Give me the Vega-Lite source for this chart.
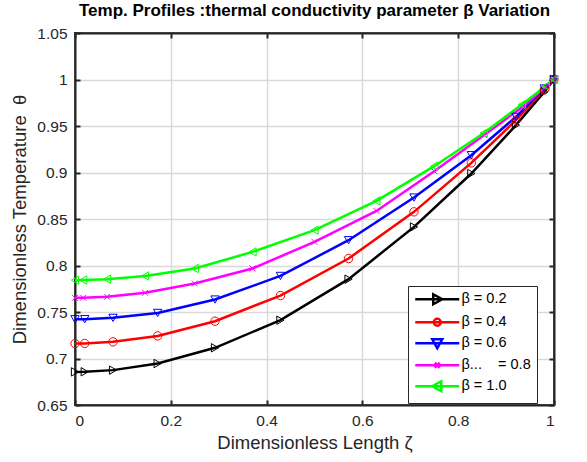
{
  "$schema": "https://vega.github.io/schema/vega-lite/v6.json",
  "width": 479,
  "height": 372,
  "autosize": {"type": "none"},
  "padding": {"left": 75, "top": 33, "right": 33, "bottom": 57},
  "background": "white",
  "title": {
    "text": "Temp. Profiles :thermal conductivity parameter β Variation",
    "font": "Liberation Sans",
    "fontSize": 17,
    "fontWeight": "bold",
    "color": "#000000",
    "anchor": "middle",
    "offset": 6
  },
  "config": {
    "view": {"stroke": "#262626", "strokeWidth": 2},
    "axis": {
      "labelFont": "Liberation Sans",
      "labelFontSize": 15.5,
      "labelColor": "#262626",
      "titleFont": "Liberation Sans",
      "titleFontSize": 18.5,
      "titleFontWeight": "normal",
      "titleColor": "#262626",
      "domainColor": "#262626",
      "domainWidth": 2,
      "tickColor": "#262626",
      "tickWidth": 2,
      "tickSize": -5,
      "gridColor": "#d9d9d9",
      "gridWidth": 1.5
    },
    "legend": {
      "orient": "none",
      "legendX": 333,
      "legendY": 253,
      "padding": 6,
      "strokeColor": "#262626",
      "fillColor": "#ffffff",
      "labelFont": "Liberation Sans",
      "labelFontSize": 14.5,
      "labelColor": "#000000",
      "symbolSize": 100,
      "symbolStrokeWidth": 2.5,
      "symbolFillColor": "transparent",
      "symbolOffset": 16,
      "labelOffset": 17,
      "rowPadding": 3
    }
  },
  "data": {
    "values": [
      {"x": 0, "y": 0.6856, "s": "β = 0.2"},
      {"x": 0.0203, "y": 0.6857, "s": "β = 0.2"},
      {"x": 0.0794, "y": 0.6875, "s": "β = 0.2"},
      {"x": 0.1726, "y": 0.6946, "s": "β = 0.2"},
      {"x": 0.2923, "y": 0.7115, "s": "β = 0.2"},
      {"x": 0.4289, "y": 0.7412, "s": "β = 0.2"},
      {"x": 0.5711, "y": 0.7853, "s": "β = 0.2"},
      {"x": 0.7077, "y": 0.8415, "s": "β = 0.2"},
      {"x": 0.8274, "y": 0.8989, "s": "β = 0.2"},
      {"x": 0.9206, "y": 0.9509, "s": "β = 0.2"},
      {"x": 0.9797, "y": 0.9867, "s": "β = 0.2"},
      {"x": 1, "y": 1.0, "s": "β = 0.2"},
      {"x": 0, "y": 0.7161, "s": "β = 0.4"},
      {"x": 0.0203, "y": 0.7162, "s": "β = 0.4"},
      {"x": 0.0794, "y": 0.7179, "s": "β = 0.4"},
      {"x": 0.1726, "y": 0.7243, "s": "β = 0.4"},
      {"x": 0.2923, "y": 0.7401, "s": "β = 0.4"},
      {"x": 0.4289, "y": 0.7677, "s": "β = 0.4"},
      {"x": 0.5711, "y": 0.8075, "s": "β = 0.4"},
      {"x": 0.7077, "y": 0.8577, "s": "β = 0.4"},
      {"x": 0.8274, "y": 0.9103, "s": "β = 0.4"},
      {"x": 0.9206, "y": 0.9562, "s": "β = 0.4"},
      {"x": 0.9797, "y": 0.9888, "s": "β = 0.4"},
      {"x": 1, "y": 1.0, "s": "β = 0.4"},
      {"x": 0, "y": 0.7422, "s": "β = 0.6"},
      {"x": 0.0203, "y": 0.7423, "s": "β = 0.6"},
      {"x": 0.0794, "y": 0.7437, "s": "β = 0.6"},
      {"x": 0.1726, "y": 0.749, "s": "β = 0.6"},
      {"x": 0.2923, "y": 0.7634, "s": "β = 0.6"},
      {"x": 0.4289, "y": 0.7888, "s": "β = 0.6"},
      {"x": 0.5711, "y": 0.8272, "s": "β = 0.6"},
      {"x": 0.7077, "y": 0.8731, "s": "β = 0.6"},
      {"x": 0.8274, "y": 0.9186, "s": "β = 0.6"},
      {"x": 0.9206, "y": 0.9598, "s": "β = 0.6"},
      {"x": 0.9797, "y": 0.9903, "s": "β = 0.6"},
      {"x": 1, "y": 1.0, "s": "β = 0.6"},
      {"x": 0, "y": 0.7652, "s": "β...    = 0.8"},
      {"x": 0.017, "y": 0.7653, "s": "β...    = 0.8"},
      {"x": 0.067, "y": 0.7663, "s": "β...    = 0.8"},
      {"x": 0.1464, "y": 0.7706, "s": "β...    = 0.8"},
      {"x": 0.25, "y": 0.7806, "s": "β...    = 0.8"},
      {"x": 0.3706, "y": 0.7968, "s": "β...    = 0.8"},
      {"x": 0.5, "y": 0.8254, "s": "β...    = 0.8"},
      {"x": 0.6294, "y": 0.8587, "s": "β...    = 0.8"},
      {"x": 0.75, "y": 0.9014, "s": "β...    = 0.8"},
      {"x": 0.8536, "y": 0.9401, "s": "β...    = 0.8"},
      {"x": 0.933, "y": 0.97, "s": "β...    = 0.8"},
      {"x": 0.983, "y": 0.992, "s": "β...    = 0.8"},
      {"x": 1, "y": 1.0, "s": "β...    = 0.8"},
      {"x": 0, "y": 0.7842, "s": "β = 1.0"},
      {"x": 0.017, "y": 0.7843, "s": "β = 1.0"},
      {"x": 0.067, "y": 0.7853, "s": "β = 1.0"},
      {"x": 0.1464, "y": 0.7888, "s": "β = 1.0"},
      {"x": 0.25, "y": 0.7968, "s": "β = 1.0"},
      {"x": 0.3706, "y": 0.8146, "s": "β = 1.0"},
      {"x": 0.5, "y": 0.838, "s": "β = 1.0"},
      {"x": 0.6294, "y": 0.8695, "s": "β = 1.0"},
      {"x": 0.75, "y": 0.9068, "s": "β = 1.0"},
      {"x": 0.8536, "y": 0.9425, "s": "β = 1.0"},
      {"x": 0.933, "y": 0.9731, "s": "β = 1.0"},
      {"x": 0.983, "y": 0.993, "s": "β = 1.0"},
      {"x": 1, "y": 1.0, "s": "β = 1.0"}
    ]
  },
  "layer": [
    {
      "mark": {"type": "line", "strokeWidth": 2.5, "clip": true},
      "encoding": {
        "x": {
          "field": "x", "type": "quantitative",
          "scale": {"domain": [0, 1], "nice": false, "zero": false},
          "axis": {
            "orient": "bottom",
            "values": [0, 0.2, 0.4, 0.6, 0.8, 1],
            "format": "~g",
            "title": "Dimensionless Length ζ",
            "labelPadding": 13,
            "titlePadding": 5,
            "grid": true
          }
        },
        "y": {
          "field": "y", "type": "quantitative",
          "scale": {"domain": [0.65, 1.05], "nice": false, "zero": false},
          "axis": {
            "orient": "left",
            "values": [0.65, 0.7, 0.75, 0.8, 0.85, 0.9, 0.95, 1, 1.05],
            "format": "~g",
            "title": "Dimensionless Temperature\u00a0\u00a0θ",
            "labelPadding": 13,
            "titlePadding": 7,
            "grid": true
          }
        },
        "color": {
          "field": "s", "type": "nominal",
          "scale": {
            "domain": ["β = 0.2", "β = 0.4", "β = 0.6", "β...    = 0.8", "β = 1.0"],
            "range": ["#000000", "#ff0000", "#0000ff", "#ff00ff", "#00ff00"]
          },
          "legend": {
            "title": null,
            "labelExpr": "replace(datum.label, '...    ', '...\u00a0\u00a0\u00a0\u00a0')",
            "encoding": {
              "symbols": {
                "shape": {"value": {"expr": "datum.value == 'β = 0.2' ? 'M-4.4,0H4.4M-0.8,-1L1,0L-0.8,1Z' : datum.value == 'β = 0.4' ? 'M-4.4,0H4.4M-0.7,0A0.7,0.7 0 1,0 0.7,0A0.7,0.7 0 1,0 -0.7,0' : datum.value == 'β = 0.6' ? 'M-4.4,0H4.4M-1,-0.8L1,-0.8L0,1Z' : datum.value == 'β = 1.0' ? 'M-4.4,0H4.4M0.8,-1L-1,0L0.8,1Z' : 'M-4.4,0H4.4M-0.5,-0.5L0.5,0.5M0.5,-0.5L-0.5,0.5'"}},
                "fill": {"value": "transparent"},
                "strokeWidth": {"value": 2.5}
              }
            }
          }
        }
      }
    },
    {
      "encoding": {
        "x": {
          "field": "x", "type": "quantitative",
          "axis": {"orient": "top", "values": [0, 0.2, 0.4, 0.6, 0.8, 1], "labels": false, "title": null, "grid": false}
        },
        "y": {
          "field": "y", "type": "quantitative",
          "axis": {"orient": "right", "values": [0.65, 0.7, 0.75, 0.8, 0.85, 0.9, 0.95, 1, 1.05], "labels": false, "title": null, "grid": false}
        },
        "color": {"field": "s", "type": "nominal"}
      },
      "layer": [
        {
          "transform": [{"filter": {"field": "s", "equal": "β = 0.2"}}],
          "mark": {"type": "point", "shape": "triangle-right", "filled": false, "strokeWidth": 1, "size": 70, "opacity": 1}
        },
        {
          "transform": [{"filter": {"field": "s", "equal": "β = 0.4"}}],
          "mark": {"type": "point", "shape": "circle", "filled": false, "strokeWidth": 1, "size": 70, "opacity": 1}
        },
        {
          "transform": [{"filter": {"field": "s", "equal": "β = 0.6"}}],
          "mark": {"type": "point", "shape": "triangle-down", "filled": false, "strokeWidth": 1, "size": 70, "opacity": 1}
        },
        {
          "transform": [{"filter": {"field": "s", "equal": "β...    = 0.8"}}],
          "mark": {"type": "point", "shape": "M-0.7,-0.7L0.7,0.7M0.7,-0.7L-0.7,0.7", "filled": false, "strokeWidth": 1, "size": 70, "opacity": 1}
        },
        {
          "transform": [{"filter": {"field": "s", "equal": "β = 1.0"}}],
          "mark": {"type": "point", "shape": "triangle-left", "filled": false, "strokeWidth": 1, "size": 70, "opacity": 1}
        }
      ]
    }
  ],
  "resolve": {"axis": {"x": "independent", "y": "independent"}}
}
